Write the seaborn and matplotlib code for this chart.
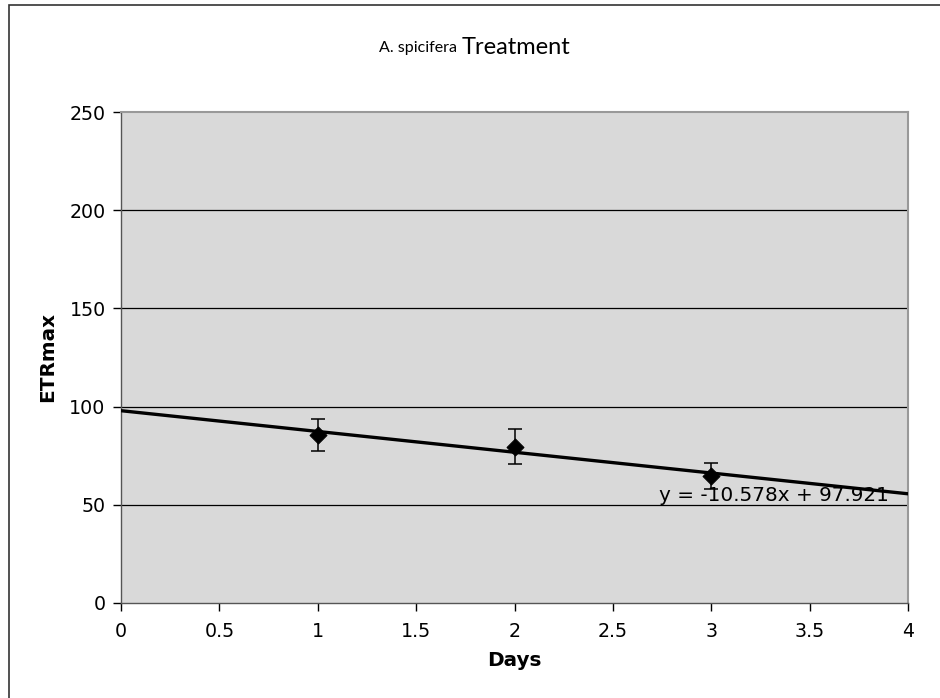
import numpy as np
import pandas as pd
import matplotlib
matplotlib.use("Agg")
import matplotlib.pyplot as plt
import seaborn as sns
from matplotlib.patches import Rectangle

days = [1, 2, 3]
etr_max = [85.6, 79.6, 64.6]
etr_err = [8.3, 8.9, 6.5]
slope = -10.578
intercept = 97.921
y_ticks = [0, 50, 100, 150, 200, 250]
x_ticks = [0, 0.5, 1, 1.5, 2, 2.5, 3, 3.5, 4]

sns.set_theme(style="white")
plt.rcParams['font.family'] = ['DejaVu Sans']
plt.rcParams['text.color'] = 'black'
plt.rcParams['axes.labelcolor'] = 'black'

fig = plt.figure(figsize=(9.4, 6.98), dpi=100)
ax = fig.add_axes([121/940, 1-603/698, (908-121)/940, (603-112)/698])
ax.set_facecolor("#d9d9d9")

# outer frame
fig.patches.append(Rectangle((9/940, -0.01), 1.0, 1 - 4.5/698 + 0.01, transform=fig.transFigure,
                             fill=False, edgecolor="#333333", linewidth=1.2, zorder=0))

# gridlines
for yv in y_ticks[1:-1]:
    ax.axhline(yv, color="black", linewidth=0.9, zorder=1)

# trendline
tx = np.array([0, 4])
tdf = pd.DataFrame({"x": tx, "y": slope * tx + intercept})
sns.lineplot(data=tdf, x="x", y="y", ax=ax, color="black", linewidth=2.4, zorder=3)

df = pd.DataFrame({"day": days, "etr": etr_max, "err": etr_err})
ax.errorbar(df["day"], df["etr"], yerr=df["err"], fmt="none", ecolor="black",
            elinewidth=1.1, capsize=5, capthick=1.1, zorder=4)
sns.scatterplot(data=df, x="day", y="etr", ax=ax, marker="D", color="black", s=75,
                edgecolor="black", zorder=5)

ax.set_xlim(0, 4)
ax.set_ylim(0, 250)
ax.set_xticks(x_ticks)
ax.set_xticklabels([f"{v:g}" for v in x_ticks])
ax.set_yticks(y_ticks)
ax.tick_params(axis="both", labelsize=13.7, colors="black", length=6, width=1, direction="out",
               bottom=True, left=True, pad=5)
ax.tick_params(axis="x", pad=8)
for s in ["top", "right"]:
    ax.spines[s].set_color("#999999")
    ax.spines[s].set_linewidth(1.5)
for s in ["left", "bottom"]:
    ax.spines[s].set_color("#555555")
    ax.spines[s].set_linewidth(1.0)

ax.set_xlabel("Days", fontsize=14.4, fontweight="bold", labelpad=7, color="black")
ax.set_ylabel("ETRmax", fontsize=14.4, fontweight="bold", labelpad=9, color="black")

ax.text(3.32, 51.8, "y = -10.578x + 97.921", fontsize=14.4, ha="center", va="baseline",
        color="black", zorder=6)

fig.text(457/940, 1-48/698, "A. spicifera", fontsize=11.5, family=["Lato", "DejaVu Sans"],
         ha="right", va="center", color="black")
fig.text(462/940, 1-47/698, "Treatment", fontsize=17, family=["Lato", "DejaVu Sans"],
         ha="left", va="center", color="black")

fig.savefig("out.png", dpi=100)
